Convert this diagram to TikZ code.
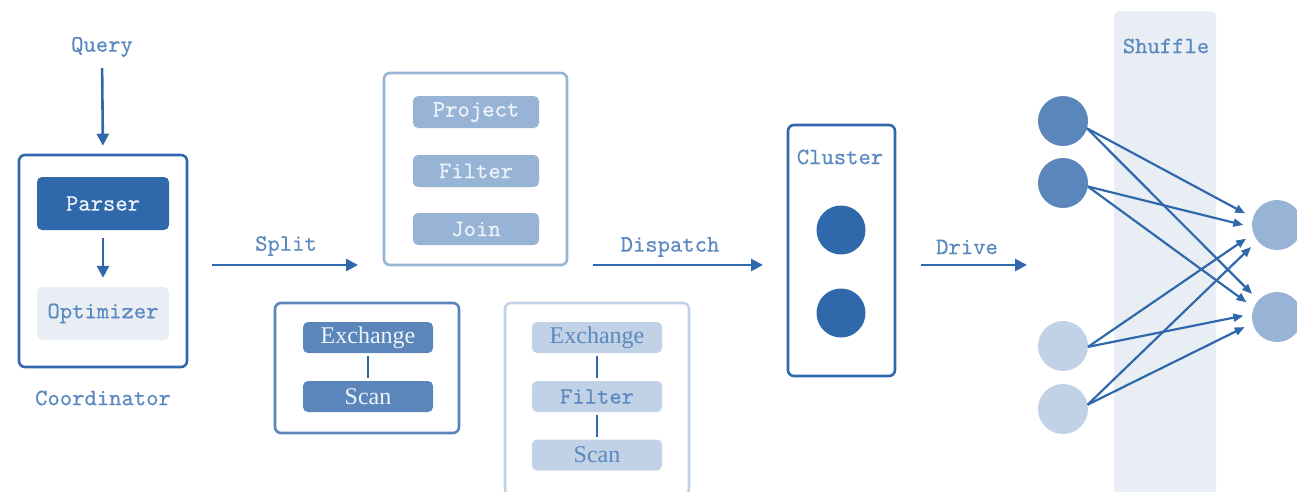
\documentclass[tikz,border=0pt]{standalone}
\usepackage{fontspec}
\newfontfamily\opserif{Liberation Serif}
\newfontfamily\opmono{lmmono10-regular}[Extension=.otf, FakeBold=0.5]
\usetikzlibrary{arrows.meta}
\definecolor{dblue}{HTML}{2F69AB}
\definecolor{mblue}{HTML}{5A86BB}
\definecolor{lblue}{HTML}{97B3D5}
\definecolor{pblue}{HTML}{C1D2E6}
\definecolor{vblue}{HTML}{E9EEF5}
\definecolor{tblue}{HTML}{5B89BF}
\definecolor{ltext}{HTML}{EEF3F9}
\tikzset{
  monof/.style={font=\opmono\fontsize{23.5}{27}\selectfont},
  serf/.style={font=\opserif\fontsize{24}{28}\selectfont},
  lbl/.style={monof, text=tblue, inner sep=0pt},
  frame/.style={draw, rounded corners=6pt, line width=2.6pt, inner sep=0pt},
  opbox/.style={rounded corners=5pt, inner sep=0pt},
  arr/.style={draw=dblue, line width=2.6pt, -{Triangle[length=12pt,width=12pt]}},
  link/.style={draw=dblue, line width=2.8pt, shorten <=2.5pt, shorten >=2.5pt},
  sarr/.style={draw=dblue, line width=2.2pt, -{Triangle[length=10pt,width=8pt]}, shorten >=9pt},
  dot/.style={circle, inner sep=0pt, outer sep=0pt, minimum size=50pt},
}
\begin{document}
\begin{tikzpicture}[x=1pt,y=-1pt]
\useasboundingbox (0,0) rectangle (1297,491);

% Coordinator
\node[lbl] (query) at (102,47) {Query};
\node[frame, draw=dblue, minimum width=168pt, minimum height=212pt] (cf) at (103,261) {};
\node[opbox, monof, fill=dblue, text=ltext, minimum width=132pt, minimum height=53pt] (parser) at (103,203.5) {Parser};
\node[opbox, monof, fill=vblue, text=tblue, minimum width=132pt, minimum height=53pt] (opt) at (103,313.5) {Optimizer};
\node[lbl] (coordl) at (103,398) {Coordinator};
\draw[arr, shorten <=11pt, shorten >=8pt] (query.south) -- (cf.north);
\draw[arr, shorten <=8pt, shorten >=9pt] (parser.south) -- (opt.north);

% Split
\coordinate (sa) at (212,265);
\coordinate (sb) at (358,265);
\draw[arr] (sa) -- (sb);
\node[lbl] (splitl) at (286,246) {Split};

% Fragment: Project / Filter / Join
\node[frame, draw=lblue, minimum width=183pt, minimum height=192pt] (tb) at (475.5,169) {};
\node[opbox, monof, fill=lblue, text=ltext, minimum width=126pt, minimum height=32pt] (proj) at (476,112) {Project};
\node[opbox, monof, fill=lblue, text=ltext, minimum width=126pt, minimum height=32pt] (filt) at (476,171) {Filter};
\node[opbox, monof, fill=lblue, text=ltext, minimum width=126pt, minimum height=32pt] (join) at (476,229) {Join};

% Fragment: Exchange / Scan
\node[frame, draw=mblue, minimum width=184pt, minimum height=130pt] (llb) at (367,368) {};
\node[opbox, serf, fill=mblue, text=ltext, minimum width=130pt, minimum height=31pt] (ex1) at (368,337.5) {Exchange};
\node[opbox, serf, fill=mblue, text=ltext, minimum width=130pt, minimum height=31pt] (sc1) at (368,396.5) {Scan};
\draw[link] (ex1.south) -- (sc1.north);

% Fragment: Exchange / Filter / Scan
\node[frame, draw=pblue, minimum width=184pt, minimum height=192pt] (lrb) at (597,399) {};
\node[opbox, serf, fill=pblue, text=tblue, minimum width=130pt, minimum height=31pt] (ex2) at (597,337.5) {Exchange};
\node[opbox, monof, fill=pblue, text=tblue, minimum width=130pt, minimum height=31pt] (fi2) at (597,396.5) {Filter};
\node[opbox, serf, fill=pblue, text=tblue, minimum width=130pt, minimum height=31pt] (sc2) at (597,455) {Scan};
\draw[link] (ex2.south) -- (fi2.north);
\draw[link] (fi2.south) -- (sc2.north);

% Dispatch
\coordinate (da) at (593,265);
\coordinate (db) at (763,265);
\draw[arr] (da) -- (db);
\node[lbl] (displ) at (670,247) {Dispatch};

% Cluster
\node[frame, draw=dblue, minimum width=107pt, minimum height=251pt] (cl) at (841.5,250.5) {};
\node[lbl] (clusl) at (840,157) {Cluster};
\node[dot, fill=dblue, minimum size=49pt] (c1) at (841,230) {};
\node[dot, fill=dblue, minimum size=49pt] (c2) at (841,313) {};

% Drive
\coordinate (va) at (921,265);
\coordinate (vb) at (1027,265);
\draw[arr] (va) -- (vb);
\node[lbl] (drivl) at (967,247) {Drive};

% Shuffle
\fill[vblue, rounded corners=6pt] (1114,11) rectangle (1216,497);
\node[lbl] (shufl) at (1166,46) {Shuffle};
\node[dot, fill=mblue] (l1) at (1063,121) {};
\node[dot, fill=mblue] (l2) at (1063,183) {};
\node[dot, fill=pblue] (l3) at (1063,346) {};
\node[dot, fill=pblue] (l4) at (1063,409) {};
\node[dot, fill=lblue] (r1) at (1277,225) {};
\node[dot, fill=lblue] (r2) at (1277,317) {};
\draw[sarr] (l1.-17) -- (r1.163);
\draw[sarr] (l1.-17) -- (r2.138);
\draw[sarr] (l2.-8) -- (r1.185);
\draw[sarr] (l2.-8) -- (r2.158);
\draw[sarr] (l3.-2) -- (r1.200);
\draw[sarr] (l3.-2) -- (r2.173);
\draw[sarr] (l4.10) -- (r1.219);
\draw[sarr] (l4.10) -- (r2.194);
\end{tikzpicture}
\end{document}
